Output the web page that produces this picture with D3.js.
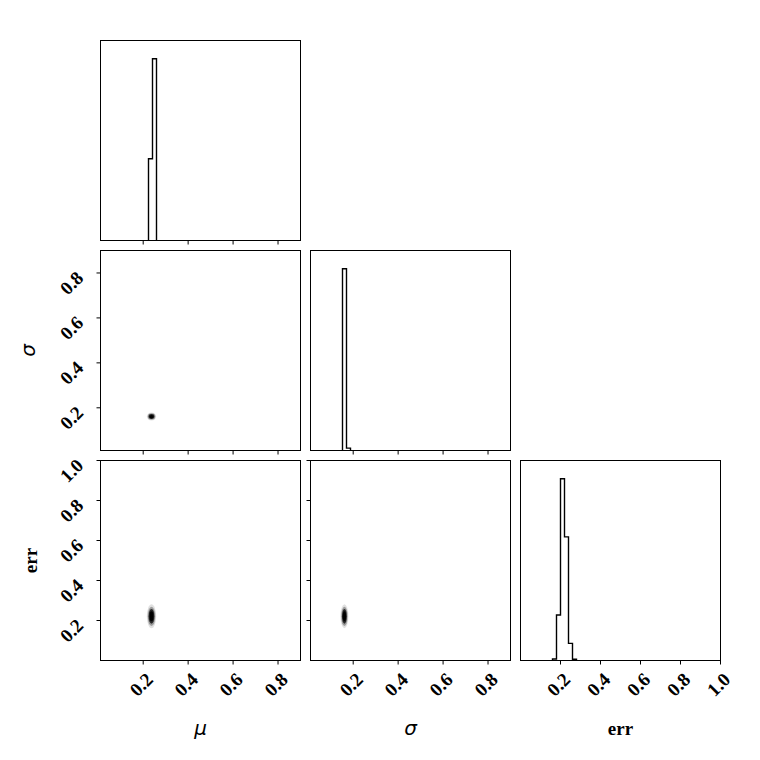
<!DOCTYPE html>
<html>
<head>
<meta charset="utf-8">
<script src="https://cdn.jsdelivr.net/npm/d3@7/dist/d3.min.js"></script>
<style>
  html, body { margin: 0; padding: 0; background: #fff; }
  svg { display: block; }
</style>
</head>
<body>
<svg id="chart" width="760" height="760"></svg>
<script>
// ---- data ----
const params = ["mu", "sigma", "err"];
const paramLabels = ["μ", "σ", "err"];
const paramRanges = [[0.01, 0.9], [0.01, 0.9], [0.0, 1.0]];
const nBins = 50;
const tickValues = [[0.2, 0.4, 0.6, 0.8], [0.2, 0.4, 0.6, 0.8], [0.2, 0.4, 0.6, 0.8, 1.0]];
const tickLabels = [["0.2", "0.4", "0.6", "0.8"], ["0.2", "0.4", "0.6", "0.8"], ["0.2", "0.4", "0.6", "0.8", "1.0"]];

// histogram counts (non-zero bins): first bin index, then counts per bin
const muHistStart = 12;
const muHistCounts = [45, 100];
const sigmaHistStart = 8;
const sigmaHistCounts = [100, 1.3];
const errHistStart = 8;
const errHistCounts = [0.8, 25, 100, 68, 9.4, 0.7];

// posterior summary for 2D panels (centre and spread per parameter)
const posteriorMean = [0.237, 0.161, 0.221];
const posteriorSd = [0.008, 0.0068, 0.023];
// contour levels in units of standard deviation, with fill opacity
const blobLevels = [2.6, 2.1, 1.6, 1.1, 0.6];
const blobOpacity = [0.12, 0.3, 0.75, 0.95, 1.0];

// ---- layout ----
const svg = d3.select("#chart");
const panelLeft = [100.5, 310.5, 520.5];
const panelTop = [40.5, 250.5, 460.5];
const S = 200;
const tickFont = "'Liberation Serif', 'Times New Roman', serif";
const tickSize = 19;

const histStart = [muHistStart, sigmaHistStart, errHistStart];
const histCounts = [muHistCounts, sigmaHistCounts, errHistCounts];

function xScale(j) { return d3.scaleLinear().domain(paramRanges[j]).range([panelLeft[j], panelLeft[j] + S]); }
function yScale(i) { return d3.scaleLinear().domain(paramRanges[i]).range([panelTop[i] + S, panelTop[i]]); }

for (let i = 0; i < 3; i++) {
  for (let j = 0; j <= i; j++) {
    const g = svg.append("g");
    const x = xScale(j);
    const x0 = panelLeft[j], y0 = panelTop[i];

    if (i === j) {
      // histogram
      const counts = histCounts[i];
      const maxC = d3.max(counts);
      const hy = d3.scaleLinear().domain([0, 1.1 * maxC]).range([y0 + S, y0]);
      const [lo, hi] = paramRanges[i];
      const bw = (hi - lo) / nBins;
      const pts = [];
      const start = histStart[i];
      pts.push([lo + start * bw, 0]);
      counts.forEach((c, k) => {
        pts.push([lo + (start + k) * bw, c]);
        pts.push([lo + (start + k + 1) * bw, c]);
      });
      pts.push([lo + (start + counts.length) * bw, 0]);
      const line = d3.line().x(d => x(d[0])).y(d => hy(d[1]));
      const clip = "clip" + i + j;
      g.append("clipPath").attr("id", clip).append("rect")
        .attr("x", x0).attr("y", y0).attr("width", S).attr("height", S);
      g.append("path").attr("d", line(pts)).attr("fill", "none")
        .attr("stroke", "#000").attr("stroke-width", 1.4)
        .attr("clip-path", `url(#${clip})`);
    } else {
      const y = yScale(i);
      const cx = x(posteriorMean[j]);
      const cy = y(posteriorMean[i]);
      const kx = Math.abs(x(posteriorSd[j]) - x(0));
      const ky = Math.abs(y(posteriorSd[i]) - y(0));
      g.selectAll("ellipse.blob").data(blobLevels).join("ellipse")
        .attr("class", "blob")
        .attr("cx", cx).attr("cy", cy)
        .attr("rx", d => d * kx).attr("ry", d => d * ky)
        .attr("fill", "#000")
        .attr("fill-opacity", (d, k) => blobOpacity[k]);
      // y axis ticks
      g.selectAll("line.yt").data(tickValues[i]).join("line")
        .attr("class", "yt")
        .attr("x1", x0).attr("x2", x0 - 4)
        .attr("y1", d => y(d)).attr("y2", d => y(d))
        .attr("stroke", "#000").attr("stroke-width", 1);
      if (j === 0) {
        g.selectAll("text.yl").data(tickValues[i]).join("text")
          .attr("class", "yl")
          .attr("transform", d => `translate(${x0 - 29},${y(d) + 10}) rotate(-45)`)
          .attr("text-anchor", "middle")
          .attr("dominant-baseline", "central")
          .attr("font-family", tickFont).attr("font-weight", "bold").attr("font-size", tickSize)
          .text((d, k) => tickLabels[i][k]);
      }
    }

    // x ticks on every panel
    g.selectAll("line.xt").data(tickValues[j]).join("line")
      .attr("class", "xt")
      .attr("x1", d => x(d)).attr("x2", d => x(d))
      .attr("y1", y0 + S).attr("y2", y0 + S + 4)
      .attr("stroke", "#000").attr("stroke-width", 1);
    if (i === 2) {
      g.selectAll("text.xl").data(tickValues[j]).join("text")
        .attr("class", "xl")
        .attr("transform", d => `translate(${x(d) - 2},${y0 + S + 24}) rotate(-45)`)
        .attr("text-anchor", "middle")
        .attr("dominant-baseline", "central")
        .attr("font-family", tickFont).attr("font-weight", "bold").attr("font-size", tickSize)
        .text((d, k) => tickLabels[j][k]);
    }

    // frame
    g.append("rect").attr("x", x0).attr("y", y0).attr("width", S).attr("height", S)
      .attr("fill", "none").attr("stroke", "#000").attr("stroke-width", 1);
  }
}

// axis labels
const labelFont = (k) => k < 2 ? "'DejaVu Sans', sans-serif" : tickFont;
paramLabels.forEach((lab, k) => {
  const t = svg.append("text")
    .attr("x", panelLeft[k] + S / 2).attr("y", 735)
    .attr("text-anchor", "middle")
    .attr("font-family", labelFont(k))
    .attr("font-size", k < 2 ? 20 : 19)
    .text(lab);
  if (k < 2) t.attr("font-style", "italic"); else t.attr("font-weight", "bold");
});
[1, 2].forEach(k => {
  const cy = panelTop[k] + S / 2;
  const t = svg.append("text")
    .attr("transform", `translate(${k === 1 ? 35 : 37},${cy}) rotate(-90)`)
    .attr("text-anchor", "middle")
    .attr("font-family", labelFont(k))
    .attr("font-size", k < 2 ? 20 : 19)
    .text(paramLabels[k]);
  if (k < 2) t.attr("font-style", "italic"); else t.attr("font-weight", "bold");
});
</script>
</body>
</html>
